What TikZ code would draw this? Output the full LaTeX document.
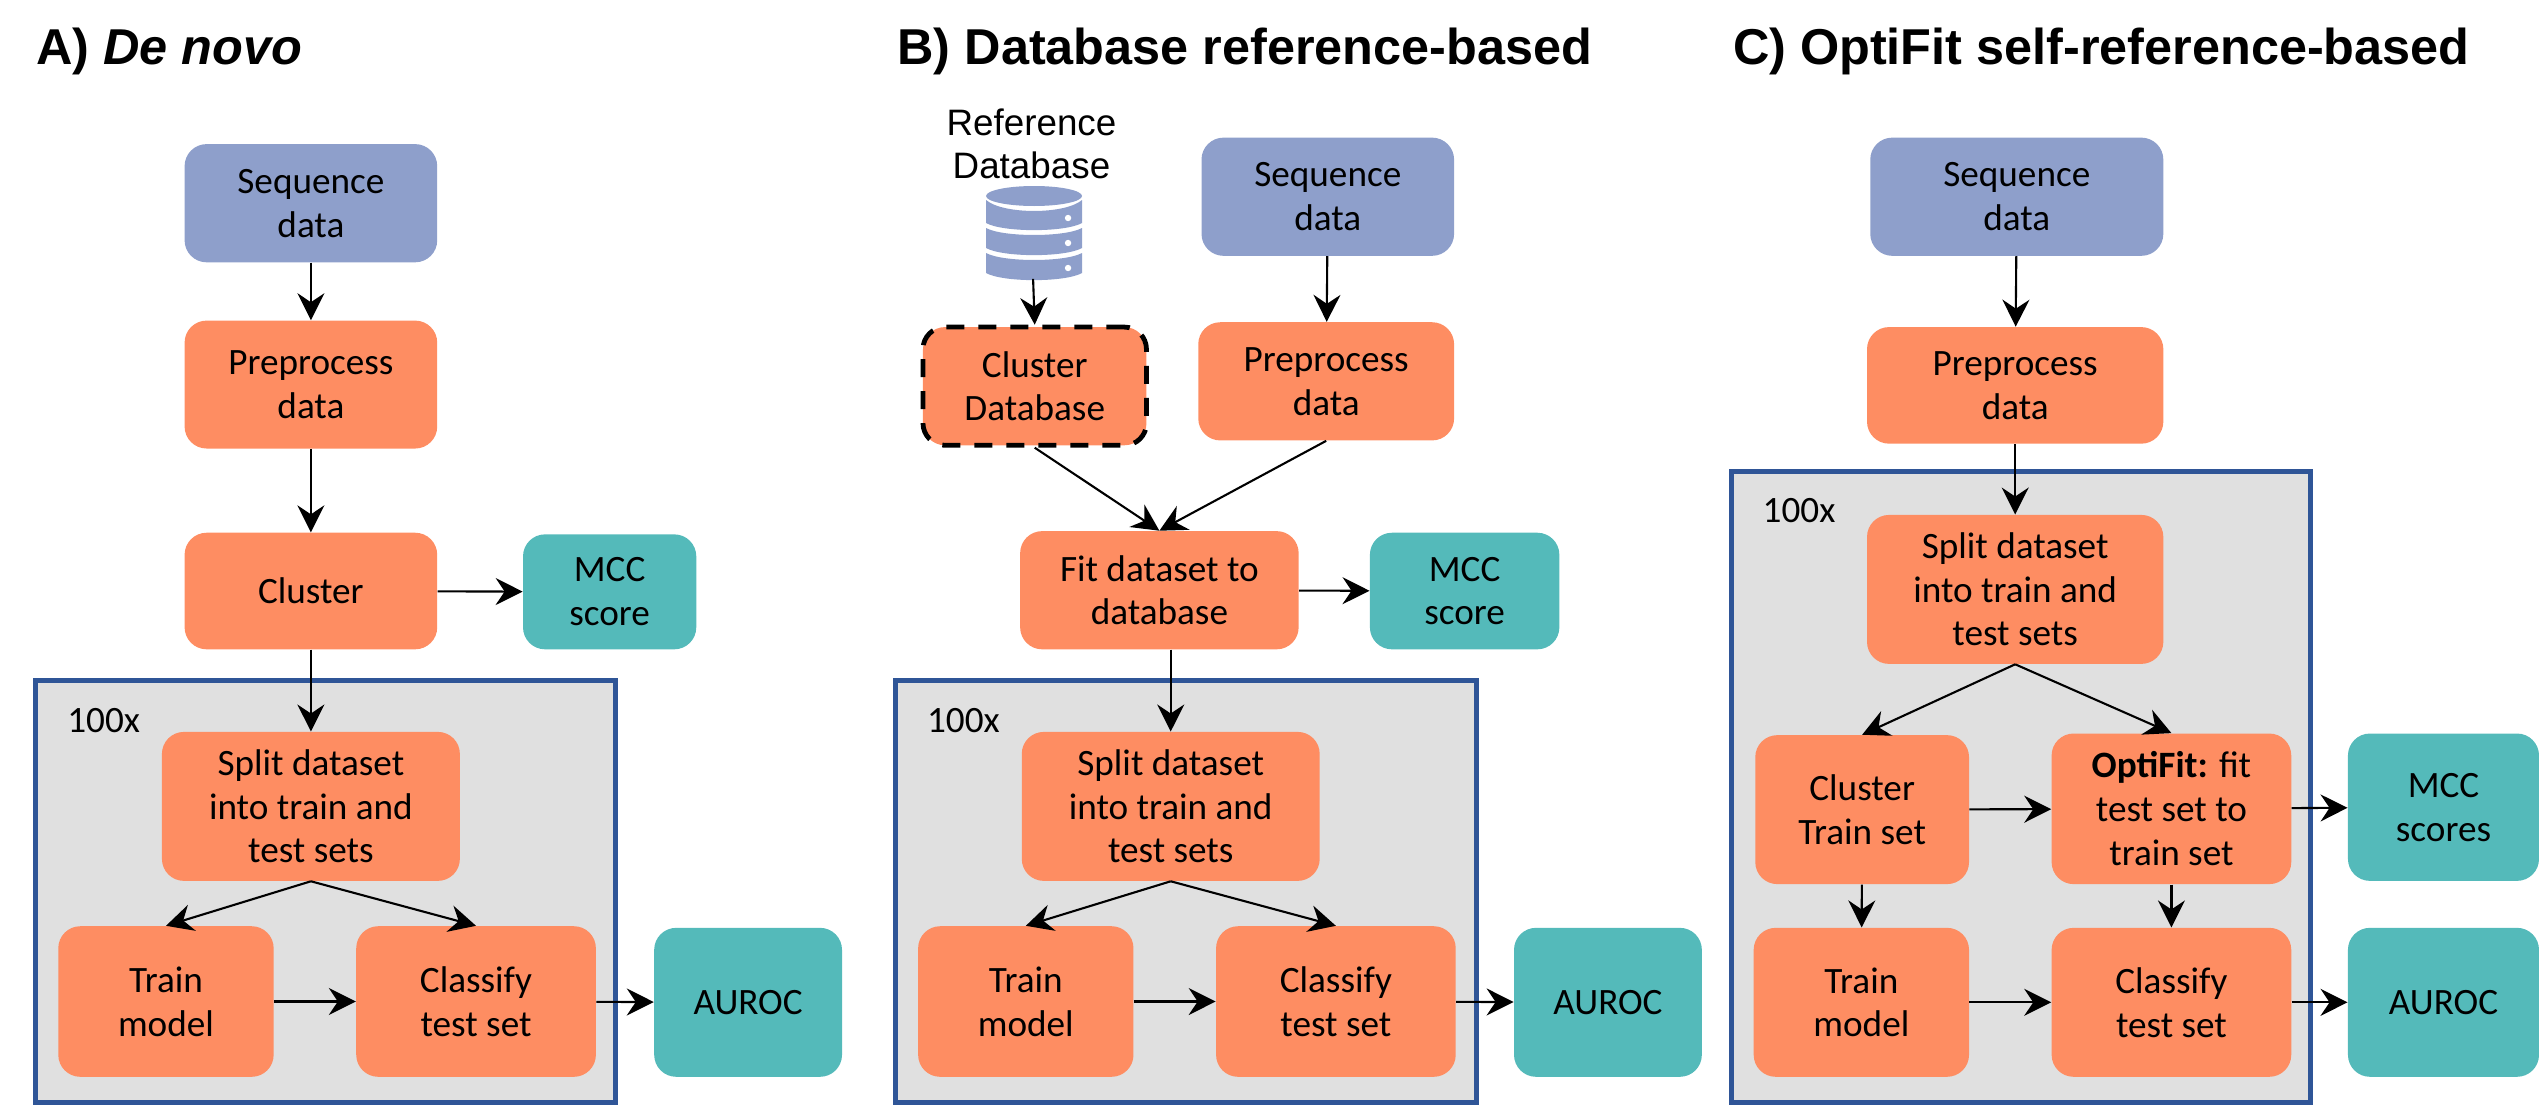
\documentclass[tikz,border=0pt]{standalone}
\usepackage{fontspec}
\setmainfont{Carlito}
\newfontfamily\arialf{Liberation Sans}
\usetikzlibrary{arrows.meta}
\definecolor{seqblue}{HTML}{8E9FCB}
\definecolor{orangebox}{HTML}{FE8D62}
\definecolor{tealbox}{HTML}{54BABA}
\definecolor{panelgrey}{HTML}{E0E0E0}
\definecolor{panelblue}{HTML}{2F5597}
\newcommand{\bx}[7]{%
  \pgfmathsetmacro{\bxw}{(#4-#2)*0.8096}%
  \pgfmathsetmacro{\bxh}{(#5-#3)*0.8096}%
  \node[#6,minimum width=\bxw pt,minimum height=\bxh pt] (#1) at ({(#2+#4)/2},{(#3+#5)/2}) {#7};%
}
\newcommand{\dbband}[4]{%
  \fill[seqblue] (#1,#2) .. controls (1003,{#2+1.33*(#3-#2)}) and (1065,{#2+1.33*(#3-#2)}) .. (1082,#2)
    -- (1082,#4) .. controls (1065,{#4+9.5}) and (1003,{#4+9.5}) .. (986,#4) -- cycle;%
}
\tikzset{
  base/.style={rounded corners=11pt,inner sep=0pt,align=center,font=\fontsize{18.6}{21.9}\selectfont,text=black},
  seqbox/.style={base,fill=seqblue},
  procbox/.style={base,fill=orangebox},
  outbox/.style={base,fill=tealbox},
  dashbox/.style={base,fill=orangebox,draw=black,line width=2.4pt,dash pattern=on 9pt off 7pt},
  panel/.style={draw=panelblue,fill=panelgrey,line width=2.5pt,inner sep=0pt},
  arr/.style={draw=black,line width=1.05pt,-{Stealth[length=13.5pt,width=13.5pt,inset=4.5pt]}},
  heading/.style={font=\arialf\bfseries\fontsize{25.2}{30}\selectfont,anchor=west,inner sep=0pt},
  lbl/.style={font=\fontsize{18.6}{21.9}\selectfont,inner sep=0pt},
  reflbl/.style={font=\arialf\fontsize{18.4}{21.6}\selectfont,align=center,inner sep=0pt},
}
\begin{document}
\begin{tikzpicture}[x=0.8096pt,y=-0.8096pt]
\useasboundingbox (0,0) rectangle (1568,684.9);
% headings
\node[heading] (ha) at (22,32) {A) \textit{De novo}};
\node[heading] (hb) at (554,32) {B) Database reference-based};
\node[heading] (hc) at (1070,32) {C) OptiFit self-reference-based};
% panels
\bx{pa}{22}{420}{380}{681}{panel}{}
\bx{pb}{553}{420}{912}{681}{panel}{}
\bx{pc}{1069}{291}{1427}{681}{panel}{}
\node[lbl] (ca) at (64,445) {100x};
\node[lbl] (cb) at (595,445) {100x};
\node[lbl] (cc) at (1111,315) {100x};
% A
\bx{aseq}{114}{89}{270}{162}{seqbox}{Sequence\\data}
\bx{aprep}{114}{198}{270}{277}{procbox}{Preprocess\\data}
\bx{aclu}{114}{329}{270}{401}{procbox}{Cluster}
\bx{amcc}{323}{330}{430}{401}{outbox}{MCC\\score}
\bx{asplit}{100}{452}{284}{544}{procbox}{Split dataset\\into train and\\test sets}
\bx{atrain}{36}{572}{169}{665}{procbox}{Train\\model}
\bx{aclass}{220}{572}{368}{665}{procbox}{Classify\\test set}
\bx{aauc}{404}{573}{520}{665}{outbox}{AUROC}
\draw[arr] (aseq) -- (aprep);
\draw[arr] (aprep) -- (aclu);
\draw[arr] (aclu) -- (amcc);
\draw[arr] (aclu) -- (asplit);
\draw[arr] (asplit.south) -- (atrain.north);
\draw[arr] (asplit.south) -- (aclass.north);
\draw[arr] (atrain) -- (aclass);
\draw[arr] (aclass) -- (aauc);
% B
\node[reflbl] (bref) at (637,89) {Reference\\Database};
\begin{scope}[x=0.5pt,y=-0.5pt]
  \fill[seqblue] (1034,196) ellipse (48 and 10);
  \dbband{986}{200}{211}{223}
  \dbband{986}{228}{235}{248}
  \dbband{986}{253}{260}{273}
  \foreach \yy in {218,243,268} \fill[white] (1068,\yy) circle (3.2);
\end{scope}
\node[inner sep=0pt,minimum width=48pt,minimum height=47pt] (bdb) at (638,143) {};
\bx{bcdb}{570}{202}{708}{275}{dashbox}{Cluster\\Database}
\bx{bseq}{742}{85}{898}{158}{seqbox}{Sequence\\data}
\bx{bprep}{740}{199}{898}{272}{procbox}{Preprocess\\data}
\bx{bfit}{630}{328}{802}{401}{procbox}{Fit dataset to\\database}
\bx{bmcc}{846}{329}{963}{401}{outbox}{MCC\\score}
\bx{bsplit}{631}{452}{815}{544}{procbox}{Split dataset\\into train and\\test sets}
\bx{btrain}{567}{572}{700}{665}{procbox}{Train\\model}
\bx{bclass}{751}{572}{899}{665}{procbox}{Classify\\test set}
\bx{bauc}{935}{573}{1051}{665}{outbox}{AUROC}
\draw[arr] (bdb.south) -- (bcdb.north);
\draw[arr] (bseq) -- (bprep);
\draw[arr] (bcdb.south) -- (bfit.north);
\draw[arr] (bprep.south) -- (bfit.north);
\draw[arr] (bfit) -- (bmcc);
\draw[arr] (bfit.south -| bsplit.north) -- (bsplit.north);
\draw[arr] (bsplit.south) -- (btrain.north);
\draw[arr] (bsplit.south) -- (bclass.north);
\draw[arr] (btrain) -- (bclass);
\draw[arr] (bclass) -- (bauc);
% C
\bx{cseq}{1155}{85}{1336}{158}{seqbox}{Sequence\\data}
\bx{cprep}{1153}{202}{1336}{274}{procbox}{Preprocess\\data}
\bx{csplit}{1153}{318}{1336}{410}{procbox}{Split dataset\\into train and\\test sets}
\bx{cclu}{1084}{454}{1216}{546}{procbox}{Cluster\\Train set}
\bx{copt}{1267}{453}{1415}{546}{procbox}{\textbf{OptiFit:} fit\\test set to\\train set}
\bx{cmcc}{1450}{453}{1568}{544}{outbox}{MCC\\scores}
\bx{ctrain}{1083}{573}{1216}{665}{procbox}{Train\\model}
\bx{cclass}{1267}{573}{1415}{665}{procbox}{Classify\\test set}
\bx{cauc}{1450}{573}{1568}{665}{outbox}{AUROC}
\draw[arr] (cseq) -- (cprep);
\draw[arr] (cprep) -- (csplit);
\draw[arr] (csplit.south) -- (cclu.north);
\draw[arr] (csplit.south) -- (copt.north);
\draw[arr] (cclu) -- (copt);
\draw[arr] (copt) -- (cmcc);
\draw[arr] (cclu) -- (ctrain);
\draw[arr] (copt) -- (cclass);
\draw[arr] (ctrain) -- (cclass);
\draw[arr] (cclass) -- (cauc);
\end{tikzpicture}
\end{document}
